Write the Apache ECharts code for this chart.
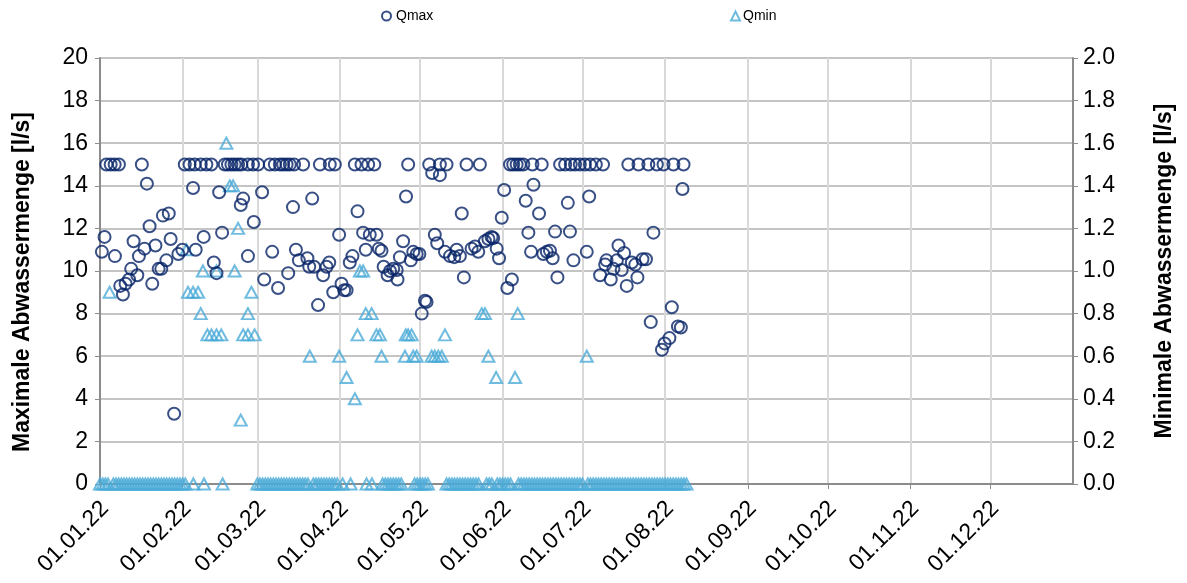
<!DOCTYPE html>
<html>
<head>
<meta charset="utf-8">
<script src="https://cdn.jsdelivr.net/npm/echarts@6/dist/echarts.min.js"></script>
<style>
html,body{margin:0;padding:0;background:#fff}
#chart{width:1187px;height:583px}
</style>
</head>
<body>
<div id="chart"></div>
<script>
// x = days since 01.01.22
const monthStarts = [0, 31, 59, 90, 120, 151, 181, 212, 243, 273, 304, 334];
const monthLabels = ['01.01.22','01.02.22','01.03.22','01.04.22','01.05.22','01.06.22','01.07.22','01.08.22','01.09.22','01.10.22','01.11.22','01.12.22'];

// Qmax [l/s], left axis
const qmaxDays = [
  0.7,1.7,2.4,4.0,5.5,7.1,5.6,7.6,8.6,9.6,10.9,11.7,12.6,14.0,14.6,15.7,16.7,17.6,18.6,19.6,
  20.8,22.0,23.0,23.6,24.9,25.8,26.5,27.8,29.4,30.9,31.8,33.6,34.9,35.5,35.9,37.8,38.9,39.9,41.8,42.7,
  43.7,44.7,45.8,46.8,48.0,49.3,50.5,51.8,52.8,53.0,53.7,55.5,55.5,57.4,57.7,59.3,60.8,61.6,63.7,64.6,
  65.6,66.8,67.5,68.7,70.0,70.6,71.2,72.4,72.8,73.5,74.6,76.2,77.8,78.5,79.6,80.3,81.8,82.5,83.7,85.0,
  86.0,86.2,87.5,88.1,89.7,90.6,91.6,92.5,93.7,94.7,95.6,96.6,98.1,98.7,99.7,100.6,101.2,102.9,103.7,104.6,
  105.6,106.4,107.9,108.8,110.0,111.3,111.6,112.5,113.7,114.8,115.6,116.6,117.5,118.8,119.8,120.7,121.9,122.5,123.5,124.6,
  125.6,126.5,127.5,127.5,129.4,130.0,131.3,132.9,133.8,135.0,135.7,136.5,137.5,139.4,140.7,141.9,142.5,144.4,145.7,146.9,
  147.5,148.8,149.7,150.7,151.6,152.8,153.8,154.5,155.0,156.3,157.5,158.8,159.7,160.7,161.7,162.2,162.6,164.7,165.7,166.3,
  167.6,168.8,169.8,170.7,171.6,172.6,174.5,175.5,176.6,176.3,177.6,178.2,180.0,181.9,182.6,183.5,183.8,186.0,187.6,188.7,
  189.5,190.0,191.6,192.6,193.9,194.5,195.7,196.6,197.6,198.2,199.5,200.8,201.6,202.0,203.5,204.8,205.7,206.6,207.6,208.9,
  210.8,211.4,211.8,213.6,214.5,215.1,216.8,217.9,218.5,218.9
];
const qmaxValues = [
  10.9,11.6,15,15,15,15,10.7,9.3,8.9,9.4,9.6,10.1,11.4,9.8,10.7,15,11.05,14.1,12.1,9.4,
  11.2,10.1,10.1,12.6,10.5,12.7,11.5,3.3,10.8,11.0,15,15,13.9,15,11.0,15,11.6,15,15,10.4,
  9.9,13.7,11.8,15,15,15,15,15,13.1,15,13.4,15,10.7,15,12.3,15,13.7,9.6,15,10.9,
  15,9.2,15,15,15,9.9,15,13.0,15,11.0,10.5,15,10.6,10.2,13.4,10.2,8.4,15,9.8,10.2,
  10.4,15,9.0,15,11.7,9.4,9.1,9.1,10.4,10.7,15,12.8,15,11.8,11.0,15,11.7,15,11.7,11.05,
  10.95,10.2,9.8,10.0,10.1,10.05,9.6,10.65,11.4,13.5,15,10.5,10.9,10.8,10.8,8.0,8.6,8.55,15,14.6,
  11.7,11.3,15,14.5,10.9,15,10.7,10.65,11.0,10.7,12.7,9.7,15,11.05,11.15,10.9,15,11.4,11.5,11.6,
  11.55,11.05,10.6,12.5,13.8,9.2,15,9.6,15,15,15,15,13.3,11.8,10.9,15,14.05,12.7,15,10.8,
  10.9,10.95,10.6,11.85,9.7,15,15,13.2,15,11.85,10.5,15,15,15,10.9,13.5,15,15,9.8,15,
  10.3,10.5,9.6,10.1,10.5,11.2,10.05,10.85,9.3,15,10.4,10.3,9.7,15,10.55,10.55,15,7.6,11.8,15,
  6.3,15,6.6,6.85,8.3,15,7.4,7.35,13.85,15
];

// Qmin [l/s], right axis: non-zero days
const qminDays = [
  3.6,32.4,33.0,34.9,36.8,37.8,38.6,40.3,41.8,43.7,45.5,43.7,47.4,48.7,49.9,50.5,51.8,52.8,53.7,55.5,
  58.0,55.5,56.8,78.7,89.7,92.5,95.6,96.6,97.5,98.7,99.7,101.9,103.7,105.0,105.6,114.4,114.7,115.6,116.9,117.5,
  118.8,124.4,125.6,126.9,128.2,129.4,143.2,144.4,145.7,148.6,155.7,156.7,182.6
];
const qminValues = [
  0.9,1.1,0.9,0.9,0.9,0.8,1.0,0.7,0.7,0.7,0.7,1.0,1.6,1.4,1.4,1.0,1.2,0.3,0.7,0.7,
  0.7,0.8,0.9,0.6,0.6,0.5,0.4,0.7,1.0,1.0,0.8,0.8,0.7,0.7,0.6,0.6,0.7,0.7,0.7,0.6,
  0.6,0.6,0.6,0.6,0.6,0.7,0.8,0.8,0.6,0.5,0.5,0.8,0.6
];
// Qmin = 0 days
const qminZeroDays = [
  0,1,2,3,5,6,7,8,9,10,11,12,13,14,15,16,17,18,19,20,21,22,23,24,25,26,27,28,29,30,31,32,
  35,39,46,
  59,60,61,62,63,64,65,66,67,68,69,70,71,72,73,74,75,76,77,78,
  80,81,82,83,84,85,86,87,88,89,91,94,100,102,
  106,107,108,109,110,111,112,113,118,119,120,121,122,123,
  130,131,132,133,134,135,136,137,138,139,140,141,142,145,146,147,149,150,151,152,153,154,
  157,158,159,160,161,162,163,164,165,166,167,168,169,170,171,172,173,174,175,176,177,178,179,180,181,
  183,184,185,186,187,188,189,190,191,192,193,194,195,196,197,198,199,200,201,202,203,204,205,206,207,208,209,210,
  211,212,213,214,215,216,217,218,219,220
];

const FONT = 'Liberation Sans, Arial, sans-serif';
const C_MAX = '#082468';
const C_MIN = '#4babd8';

const qmaxData = qmaxDays.map((d, i) => [d, qmaxValues[i]]);
const qminData = qminDays.map((d, i) => [d, qminValues[i]])
  .concat(qminZeroDays.map(d => [d, 0]));

const chart = echarts.init(document.getElementById('chart'));
chart.setOption({
  backgroundColor: '#ffffff',
  animation: false,
  textStyle: {fontFamily: FONT},
  legend: [
    {data: ['Qmax'], left: 381, top: 9, padding: 0, itemWidth: 9, itemHeight: 9,
     textStyle: {fontSize: 14, color: '#000', fontFamily: FONT}},
    {data: ['Qmin'], left: 730, top: 9, padding: 0, itemWidth: 9, itemHeight: 9,
     textStyle: {fontSize: 14, color: '#000', fontFamily: FONT, padding: [0, 0, 0, -2]}}
  ],
  grid: {left: 100, right: 114, top: 58, bottom: 99},
  xAxis: {
    type: 'value', min: 0, max: 365,
    axisLine: {lineStyle: {color: '#8c8c8c', width: 2}},
    axisTick: {show: true, customValues: monthStarts, length: 5, lineStyle: {color: '#8c8c8c'}},
    splitLine: {show: true, lineStyle: {color: '#d9d9d9', width: 2}},
    axisLabel: {
      customValues: monthStarts, rotate: 45, fontSize: 23, color: '#000', margin: 26,
      padding: [0, -7, 0, 0],
      formatter: v => monthLabels[monthStarts.indexOf(v)] || ''
    }
  },
  yAxis: [
    {
      type: 'value', min: 0, max: 20, interval: 2, position: 'left',
      name: 'Maximale Abwassermenge [l/s]', nameLocation: 'middle', nameGap: 66,
      nameTextStyle: {fontSize: 23, fontWeight: 'bold', color: '#000', padding: [0, 22, 0, 0]},
      axisLine: {show: true, lineStyle: {color: '#8c8c8c', width: 2}},
      axisTick: {show: true, length: 5, lineStyle: {color: '#8c8c8c'}},
      splitLine: {lineStyle: {color: '#c4c4c4', width: 2}},
      axisLabel: {fontSize: 23, color: '#000', margin: 12}
    },
    {
      type: 'value', min: 0, max: 2, interval: 0.2, position: 'right',
      name: 'Minimale Abwassermenge [l/s]', nameLocation: 'middle', nameGap: 80,
      nameTextStyle: {fontSize: 23, fontWeight: 'bold', color: '#000'},
      axisLine: {show: true, lineStyle: {color: '#8c8c8c', width: 2}},
      axisTick: {show: true, length: 5, lineStyle: {color: '#8c8c8c'}},
      splitLine: {show: false},
      axisLabel: {fontSize: 23, color: '#000', margin: 10, formatter: v => v.toFixed(1)}
    }
  ],
  series: [
    {
      name: 'Qmax', type: 'scatter', yAxisIndex: 0, data: qmaxData,
      symbol: 'circle', symbolSize: 12,
      itemStyle: {color: 'rgba(255,255,255,0)', borderColor: C_MAX, borderWidth: 2},
      z: 3
    },
    {
      name: 'Qmin', type: 'scatter', yAxisIndex: 1, data: qminData,
      symbol: 'triangle', symbolSize: [12, 11],
      itemStyle: {color: 'rgba(255,255,255,0)', borderColor: C_MIN, borderWidth: 2},
      z: 2
    }
  ]
});
</script>
</body>
</html>
